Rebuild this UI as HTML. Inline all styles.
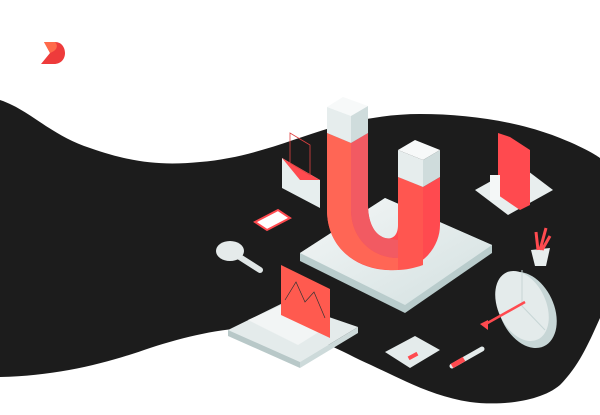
<!DOCTYPE html>
<html><head><meta charset="utf-8"><style>
html,body{margin:0;padding:0;background:#fff;width:600px;height:415px;overflow:hidden}
svg{display:block}
</style></head><body>
<svg width="600" height="415" viewBox="0 0 600 415" xmlns="http://www.w3.org/2000/svg">
<defs>
<linearGradient id="pl" x1="0" y1="0" x2="1" y2="1"><stop offset="0" stop-color="#f4f7f7"/><stop offset="1" stop-color="#d3e0e0"/></linearGradient>
</defs>
<path d="M0,100 C30,110 50,135 90,148 C130,162 160,166 200,162 C250,158 290,140 330,128 C360,119 390,114 420,114 C470,114 520,122 560,138 C590,150 600,158 600,158 L600,318 C590,340 580,365 560,385 C540,402 500,406 470,402 C430,396 400,378 360,360 C330,345 300,330 270,328 C230,326 190,335 150,348 C110,362 60,376 0,377 Z" fill="#1c1c1c"/>
<!-- logo -->
<path d="M44,42 L55,42 C62,42 65,48 65,53 C65,59 61,64 54,64 L41,64 L50,53 Z" fill="#ee3b3b"/>
<path d="M44,42 L55,42 C58,45 58,50 50,53 Z" fill="#ff6a4a"/>
<!-- platform -->
<path d="M300,253 L385,198 L492,245 L492,253 L405,313 L300,261 Z" fill="#b9cccc"/>
<path d="M300,253 L385,198 L492,245 L405,305 Z" fill="url(#pl)"/>
<!-- magnet -->
<path d="M327,133 L327,210 C327,250 360,272 395,270 C425,268 440,245 440,225 L440,177 L423,187 L398,177 L398,225 C398,235 393,240 385,238 C372,234 368,218 368,205 L368,133 L351,143 Z" fill="#ff4a4f"/>
<path d="M327,133 L351,143 L351,210 C351,238 372,258 398,258 L398,270 C360,272 327,250 327,210 Z" fill="#ff6655"/>
<path d="M351,143 L368,133 L368,205 C368,218 372,234 385,238 L398,240 L398,258 C372,258 351,238 351,210 Z" fill="#f25a62"/>
<path d="M398,177 L423,187 L423,265 C415,268 405,270 398,270 Z" fill="#ff5650"/>
<!-- caps -->
<path d="M327,107 L343,97 L368,106 L351,116 Z" fill="#f7f9f9"/>
<path d="M327,107 L351,116 L351,143 L327,133 Z" fill="#e6eded"/>
<path d="M351,116 L368,106 L368,133 L351,143 Z" fill="#cfdcdc"/>
<path d="M398,150 L415,140 L440,150 L423,160 Z" fill="#f7f9f9"/>
<path d="M398,150 L423,160 L423,187 L398,177 Z" fill="#e6eded"/>
<path d="M423,160 L440,150 L440,177 L423,187 Z" fill="#cfdcdc"/>
<!-- envelope -->
<path d="M282,158 L320,180 L320,208 L282,188 Z" fill="#e7eeee"/>
<path d="M282,158 L300,180 L320,180 Z" fill="#ff4a4f"/>
<path d="M290,133 L310,145 L310,175 L290,163 Z" fill="none" stroke="#e04040" stroke-width="0.8"/>
<!-- phone -->
<path d="M475,190 L520,165 L553,190 L508,215 Z" fill="#e8eeee"/>
<path d="M498,133 L510,137 L530,150 L530,205 L520,210 L498,195 Z" fill="#ff4a4f"/>
<rect x="490" y="175" width="10" height="25" fill="#f4f7f7"/>
<!-- card -->
<path d="M255,222 L278,210 L290,218 L267,230 Z" fill="#fff" stroke="#ff4a4f" stroke-width="2"/>
<!-- magnifier -->
<line x1="238" y1="256" x2="260" y2="270" stroke="#e0e6e6" stroke-width="6" stroke-linecap="round"/>
<ellipse cx="230" cy="251" rx="14" ry="10" fill="#e5ebeb"/>
<!-- laptop -->
<path d="M228,330 L285,302 L358,327 L300,362 Z" fill="#e4ebeb"/>
<path d="M228,330 L300,362 L300,368 L228,336 Z" fill="#b8c8c8"/>
<path d="M300,362 L358,327 L358,333 L300,368 Z" fill="#cddada"/>
<path d="M248,320 L282,305 L330,325 L298,345 Z" fill="#f2f5f5"/>
<path d="M281,265 L330,289 L330,338 L281,315 Z" fill="#ff5a4f"/>
<polyline points="285,300 296,282 305,302 314,292 325,318" fill="none" stroke="#333" stroke-width="0.7"/>
<!-- plant -->
<path d="M531,250 L550,248 L546,266 L535,266 Z" fill="#e8eeee"/>
<path d="M538,250 L536,232 M540,250 L546,228 M542,250 L550,236" stroke="#ff4a4f" stroke-width="3"/>
<!-- pie target -->
<ellipse cx="527" cy="310" rx="27" ry="40" transform="rotate(-25 527 310)" fill="#c7d6d6"/>
<ellipse cx="522" cy="306" rx="24" ry="37" transform="rotate(-25 522 306)" fill="#e4ebeb"/>
<line x1="522" y1="270" x2="522" y2="306" stroke="#c7d6d6" stroke-width="1"/>
<line x1="522" y1="306" x2="545" y2="330" stroke="#c7d6d6" stroke-width="1"/>
<line x1="484" y1="325" x2="525" y2="302" stroke="#ff4a4f" stroke-width="2.5"/>
<path d="M480,324 L488,320 L488,330 Z" fill="#ff4a4f"/>
<!-- calculator -->
<path d="M385,352 L415,336 L440,350 L410,368 Z" fill="#e4ebeb"/>
<rect x="408" y="354" width="10" height="4" fill="#ff4a4f" transform="rotate(-28 413 356)"/>
<!-- pen -->
<line x1="452" y1="366" x2="482" y2="349" stroke="#e4ebeb" stroke-width="5" stroke-linecap="round"/>
<line x1="452" y1="366" x2="464" y2="359" stroke="#ff4a4f" stroke-width="5"/>
</svg>
</body></html>
